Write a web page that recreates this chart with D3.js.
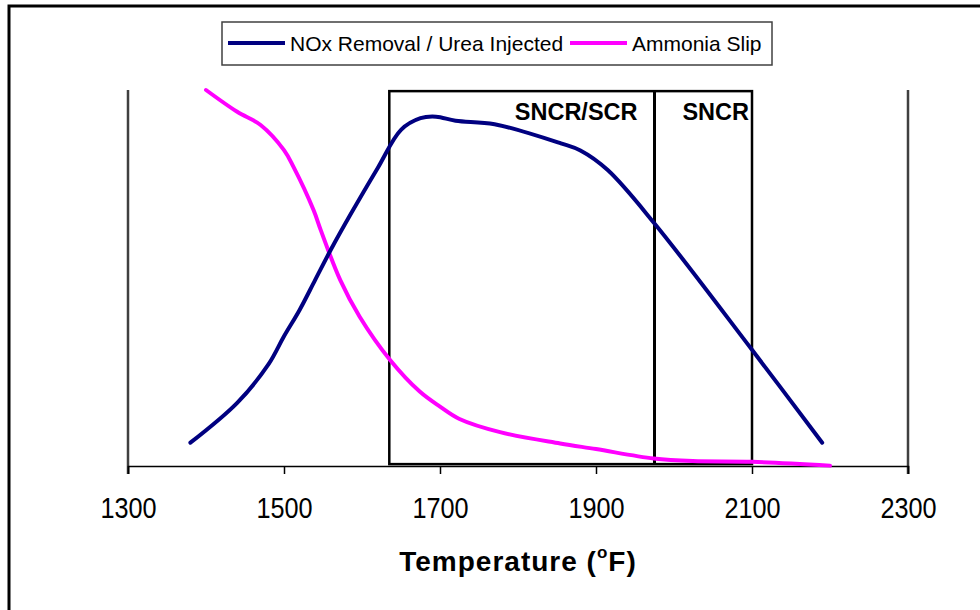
<!DOCTYPE html>
<html><head><meta charset="utf-8">
<script src="https://cdn.jsdelivr.net/npm/d3@7"></script>
<style>body{margin:0;background:#fff}svg{display:block}text{font-family:"Liberation Sans",Arial,sans-serif}</style>
</head><body><svg id="c" width="980" height="610"></svg>
<script>
const xTicks = [1300,1500,1700,1900,2100,2300];
const noxTemp = [1380,1440,1480,1500,1520,1540,1560,1585,1620,1650,1675,1695,1720,1770,1855,1880,1915,1975,2100,2190];
const noxVal  = [6.2,16.8,27,34.5,41.5,49.5,57.5,66.8,79.2,89.4,92.5,92.9,91.8,90.9,85.8,83.9,78.7,64.5,30.9,6.2];
const nh3Temp = [1400,1440,1470,1500,1512,1538,1547,1572,1597,1636,1674,1700,1725,1777,1854,1900,1974,2024,2100,2200];
const nh3Val  = [100,94.2,90.7,84,79.6,68,62.8,49.5,39.7,28.2,19.8,15.8,12.5,9,6,4.5,2,1.3,1.1,0.1];
const zoneEdges = [1635,1975,2100];
const zoneLabels = ["SNCR/SCR","SNCR"];
const seriesNames = ["NOx Removal / Urea Injected","Ammonia Slip"];
const seriesColors = ["#000080","#ff00ff"];

const svg = d3.select("#c");
const x = d3.scaleLinear().domain([1300,2300]).range([128,908]);
const y = d3.scaleLinear().domain([0,100]).range([466,90]);

// outer frame
svg.append("rect").attr("x",9).attr("y",6).attr("width",1000).attr("height",700)
  .attr("fill","none").attr("stroke","#000").attr("stroke-width",3);

// side vertical lines
[1300,2300].forEach(t=>{
  svg.append("line").attr("x1",x(t)).attr("x2",x(t)).attr("y1",y(100)).attr("y2",474)
    .attr("stroke","#404040").attr("stroke-width",2.5);
});

// x axis
const ax = svg.append("g").attr("transform",`translate(0,${y(0)})`)
  .call(d3.axisBottom(x).tickValues(xTicks).tickSize(8).tickFormat(d3.format("d")));
ax.select(".domain").attr("stroke","#000").attr("stroke-width",1.5);
ax.selectAll(".tick line").attr("stroke","#000").attr("stroke-width",1.5);
ax.selectAll(".tick text").attr("font-size",29).attr("fill","#000")
  .attr("font-family","Liberation Sans, Arial, sans-serif")
  .attr("y",52).attr("dy",0).attr("transform","scale(0.87,1)");

// zone box
svg.append("rect").attr("x",x(zoneEdges[0])).attr("y",y(99.7))
  .attr("width",x(zoneEdges[2])-x(zoneEdges[0])).attr("height",y(0.5)-y(99.7))
  .attr("fill","none").attr("stroke","#000").attr("stroke-width",2.5);
svg.append("line").attr("x1",x(zoneEdges[1])).attr("x2",x(zoneEdges[1]))
  .attr("y1",y(99.7)).attr("y2",y(0.5)).attr("stroke","#000").attr("stroke-width",3);
zoneLabels.forEach((l,i)=>{
  svg.append("text").attr("x",x(zoneEdges[i+1])-(i==0?17:3)).attr("y",120)
    .attr("text-anchor","end").attr("font-size",23.5).attr("font-weight","bold").text(l);
});

// lines
const line = d3.line().x(d=>x(d[0])).y(d=>y(d[1])).curve(d3.curveCatmullRom.alpha(0.5));
const noxData = noxTemp.map((t,i)=>[t,noxVal[i]]);
const nh3Data = nh3Temp.map((t,i)=>[t,nh3Val[i]]);
svg.append("path").datum(nh3Data).attr("d",line).attr("fill","none")
  .attr("stroke",seriesColors[1]).attr("stroke-width",4).attr("stroke-linecap","round").attr("stroke-linejoin","round");
svg.append("path").datum(noxData).attr("d",line).attr("fill","none")
  .attr("stroke",seriesColors[0]).attr("stroke-width",4).attr("stroke-linecap","round").attr("stroke-linejoin","round");

// axis title
const t = svg.append("text").attr("x",518).attr("y",571).attr("text-anchor","middle")
  .attr("font-size",28).attr("font-weight","bold").attr("letter-spacing",1);
t.append("tspan").text("Temperature (");
t.append("tspan").attr("font-size",17).attr("dy",-13).text("o");
t.append("tspan").attr("dy",13).text("F)");

// legend
const lg = svg.append("g");
lg.append("rect").attr("x",222).attr("y",22).attr("width",550).attr("height",43)
  .attr("fill","#fff").attr("stroke","#404040").attr("stroke-width",1.5);
const lgX = [228,570];
seriesNames.forEach((n,i)=>{
  lg.append("line").attr("x1",lgX[i]).attr("x2",lgX[i]+57).attr("y1",43).attr("y2",43)
    .attr("stroke",seriesColors[i]).attr("stroke-width",4);
  lg.append("text").attr("x",lgX[i]+62).attr("y",50.5).attr("font-size",21).text(n);
});
</script></body></html>
